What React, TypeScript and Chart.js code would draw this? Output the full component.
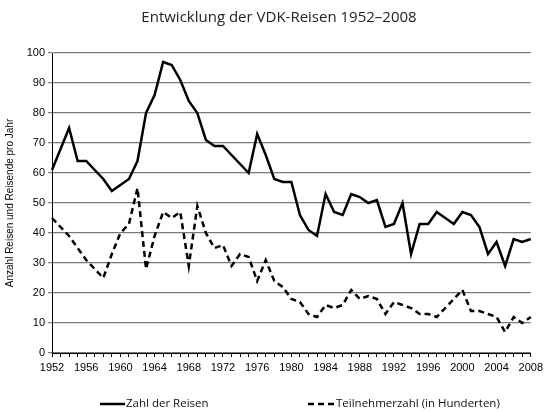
import { useEffect, useRef } from 'react';
import { Chart, registerables } from 'chart.js';
Chart.register(...registerables);

const titleText = 'Entwicklung der VDK-Reisen 1952–2008';
const yAxisTitle = 'Anzahl Reisen und Reisende pro Jahr';
const seriesNames = ['Zahl der Reisen', 'Teilnehmerzahl (in Hunderten)'];

const years = [
  1952, 1953, 1954, 1955, 1956, 1957, 1958, 1959, 1960, 1961,
  1962, 1963, 1964, 1965, 1966, 1967, 1968, 1969, 1970, 1971,
  1972, 1973, 1974, 1975, 1976, 1977, 1978, 1979, 1980, 1981,
  1982, 1983, 1984, 1985, 1986, 1987, 1988, 1989, 1990, 1991,
  1992, 1993, 1994, 1995, 1996, 1997, 1998, 1999, 2000, 2001,
  2002, 2003, 2004, 2005, 2006, 2007, 2008,
];

const reisen = [
  61, 68, 75, 64, 64, 61, 58, 54, 56, 58,
  64, 80, 86, 97, 96, 91, 84, 80, 71, 69,
  69, 66, 63, 60, 73, 66, 58, 57, 57, 46,
  41, 39, 53, 47, 46, 53, 52, 50, 51, 42,
  43, 50, 33, 43, 43, 47, 45, 43, 47, 46,
  42, 33, 37, 29, 38, 37, 38,
];

const teilnehmer = [
  45, 42, 39, 35, 31, 28, 25, 33, 40, 43,
  55, 28, 39, 47, 45, 47, 29, 49, 40, 35,
  36, 29, 33, 32, 24, 31, 24, 22, 18, 17,
  13, 12, 16, 15, 16, 21, 18, 19, 18, 13,
  17, 16, 15, 13, 13, 12, 15, 18, 21, 14,
  14, 13, 12, 7, 12, 10, 12,
];

const DASH = [6, 4];

const overlayPlugin = {
  id: 'overlay',
  afterDraw(chart: any) {
    const ctx = chart.ctx;
    ctx.save();
    // title
    ctx.fillStyle = '#222';
    ctx.font = '15px "Open Sans"';
    ctx.textAlign = 'center';
    ctx.textBaseline = 'middle';
    ctx.fillText(titleText, 279, 18);
    // legend
    ctx.font = '11.5px "Open Sans"';
    ctx.textAlign = 'left';
    ctx.fillStyle = '#111';
    const ly = 404;
    ctx.strokeStyle = '#000';
    ctx.lineWidth = 2.5;
    ctx.beginPath();
    ctx.moveTo(100, ly);
    ctx.lineTo(125, ly);
    ctx.stroke();
    ctx.fillText(seriesNames[0], 126, ly);
    ctx.setLineDash(DASH);
    ctx.beginPath();
    ctx.moveTo(308, ly);
    ctx.lineTo(335, ly);
    ctx.stroke();
    ctx.setLineDash([]);
    ctx.fillText(seriesNames[1], 336, ly);
    ctx.restore();
  },
};

export default function App() {
  const ref = useRef<HTMLCanvasElement>(null);
  useEffect(() => {
    document.body.style.margin = '0';
    const chart = new Chart(ref.current!, {
      type: 'line',
      data: {
        labels: years.map(String),
        datasets: [
          {
            label: seriesNames[0],
            data: reisen,
            borderColor: '#000',
            borderWidth: 2.5,
            pointRadius: 0,
            tension: 0,
            fill: false,
          },
          {
            label: seriesNames[1],
            data: teilnehmer,
            borderColor: '#000',
            borderWidth: 2.5,
            borderDash: DASH,
            pointRadius: 0,
            tension: 0,
            fill: false,
          },
        ],
      },
      options: {
        animation: false,
        responsive: false,
        events: [],
        layout: { padding: { top: 53, left: 0, right: 12, bottom: 33 } },
        plugins: {
          legend: { display: false },
          title: { display: false },
          tooltip: { enabled: false },
        },
        scales: {
          x: {
            type: 'category',
            offset: false,
            border: { display: true, color: '#000', width: 1 },
            grid: {
              drawOnChartArea: false,
              drawTicks: true,
              tickLength: 4,
              color: '#000',
              offset: false,
            },
            ticks: {
              autoSkip: false,
              maxRotation: 0,
              minRotation: 0,
              color: '#000',
              padding: 4,
              font: { family: 'Liberation Sans, Arial', size: 11 },
              callback: (_v: any, i: number) => (i % 4 === 0 ? String(years[i]) : ''),
            },
            afterFit: (s: any) => {
              s.height = 26;
            },
          },
          y: {
            min: 0,
            max: 100,
            border: { display: true, color: '#000', width: 1 },
            grid: {
              color: '#7a7a7a',
              lineWidth: 1.2,
              drawTicks: true,
              tickLength: 4,
            },
            ticks: {
              stepSize: 10,
              color: '#000',
              padding: 3,
              font: { family: 'Liberation Sans, Arial', size: 11 },
            },
            title: {
              display: true,
              text: yAxisTitle,
              color: '#000',
              font: { family: 'Liberation Sans, Arial', size: 10 },
              padding: { top: 4, bottom: 4 },
            },
            afterFit: (s: any) => {
              s.width = 52;
            },
          },
        },
      },
      plugins: [overlayPlugin],
    });
    return () => chart.destroy();
  }, []);
  return (
    <div style={{ width: 547, height: 412 }}>
      <canvas ref={ref} width={547} height={412} style={{ display: 'block' }} />
    </div>
  );
}
